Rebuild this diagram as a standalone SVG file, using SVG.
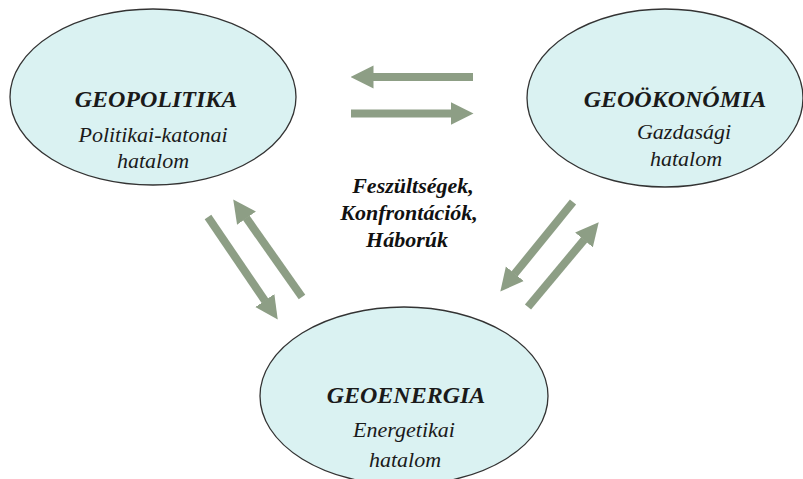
<svg xmlns="http://www.w3.org/2000/svg" width="803" height="479" viewBox="0 0 803 479">
  <style>
    .node { fill: #daf2f2; stroke: #333333; stroke-width: 1.3; }
    text { font-family: 'Liberation Serif', 'Times New Roman', Times, serif; text-anchor: middle; font-style: italic; }
    .title { font-weight: bold; font-size: 24px; fill: #1a1a1a; }
    .sub { font-size: 22px; fill: #1a1a1a; }
    .mid { font-weight: bold; font-size: 22px; fill: #111111; }
    .arrow { stroke: #8d9e85; stroke-width: 8; fill: none; marker-end: url(#head); }
  </style>
  <defs>
    <marker id="head" markerUnits="userSpaceOnUse" viewBox="0 -12 23 24" refX="0.5" refY="0" markerWidth="23" markerHeight="24" orient="auto">
      <path d="M0,-11.5 L23,0 L0,11.5 Z" fill="#8d9e85"/>
    </marker>
  </defs>

  <rect width="803" height="479" fill="#ffffff"/>

  <g id="geopolitika">
    <ellipse class="node" cx="153" cy="97" rx="143" ry="88"/>
    <text class="title" x="156" y="107">GEOPOLITIKA</text>
    <text class="sub" x="153" y="142">Politikai-katonai</text>
    <text class="sub" x="153" y="168">hatalom</text>
  </g>

  <g id="geookonomia">
    <ellipse class="node" cx="665" cy="98" rx="138" ry="89"/>
    <text class="title" x="675" y="107">GEOÖKONÓMIA</text>
    <text class="sub" x="684" y="139">Gazdasági</text>
    <text class="sub" x="686" y="166">hatalom</text>
  </g>

  <g id="geoenergia">
    <ellipse class="node" cx="404" cy="396" rx="144" ry="89"/>
    <text class="title" x="406" y="403">GEOENERGIA</text>
    <text class="sub" x="404" y="437">Energetikai</text>
    <text class="sub" x="405" y="467">hatalom</text>
  </g>

  <g id="label">
    <text class="mid" x="413" y="193">Feszültségek,</text>
    <text class="mid" x="409" y="220">Konfrontációk,</text>
    <text class="mid" x="407" y="247">Háborúk</text>
  </g>

  <g id="connectors">
    <line class="arrow" x1="473" y1="77" x2="373" y2="77"/>
    <line class="arrow" x1="351" y1="113.5" x2="451" y2="113.5"/>
    <line class="arrow" x1="208" y1="217" x2="265.1" y2="301"/>
    <line class="arrow" x1="302" y1="297" x2="246.2" y2="217.8"/>
    <line class="arrow" x1="573" y1="202" x2="514.5" y2="274.1"/>
    <line class="arrow" x1="528" y1="307" x2="584.3" y2="239.6"/>
  </g>
</svg>
